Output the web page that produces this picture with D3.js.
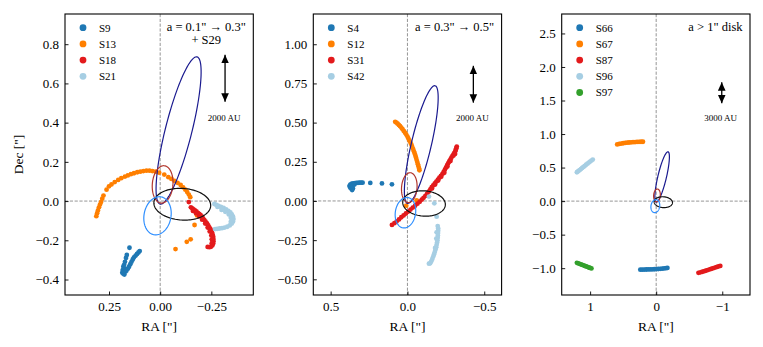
<!DOCTYPE html>
<html><head><meta charset="utf-8">
<script src="https://cdn.jsdelivr.net/npm/d3@7"></script>
<style>
body{margin:0;background:#fff}
svg{display:block}
text{font-family:"Liberation Serif","DejaVu Serif",serif;fill:#000}
</style>
</head><body>
<svg id="c" width="763" height="347"></svg>
<script>
// ---------------- DATA ----------------
// Panel 1: a = 0.1" -> 0.3" + S29
const S9 = [[0.18,-0.37],[0.175,-0.375],[0.185,-0.365],[0.178,-0.36],[0.183,-0.352],[0.175,-0.345],[0.18,-0.335],[0.176,-0.325],
  [0.17,-0.36],[0.165,-0.355],[0.158,-0.345],[0.152,-0.335],[0.146,-0.322],[0.14,-0.31],[0.134,-0.298],[0.128,-0.287],[0.12,-0.278],
  [0.113,-0.27],[0.106,-0.262],[0.1,-0.255],[0.172,-0.31],[0.167,-0.29],[0.163,-0.275],[0.15,-0.238]];
const S13 = [[0.312,-0.077],[0.308,-0.062],[0.304,-0.048],[0.299,-0.032],[0.294,-0.018],[0.289,-0.005],[0.283,0.012],[0.277,0.028],
  [0.262,0.058],[0.25,0.075],[0.238,0.085],[0.222,0.097],[0.205,0.108],[0.19,0.117],[0.172,0.125],[0.158,0.131],[0.143,0.137],
  [0.128,0.142],[0.112,0.147],[0.097,0.15],[0.082,0.153],[0.067,0.155],[0.052,0.155],[0.038,0.153],[0.022,0.15],[0.005,0.145],
  [-0.02,0.135],[-0.04,0.122],[-0.055,0.113],[-0.07,0.103],[-0.085,0.093],[-0.1,0.082],[-0.112,0.07],[-0.123,0.058],[-0.132,0.046],
  [-0.14,0.033],[-0.147,0.02],[-0.18,-0.073],[-0.168,-0.122],[-0.149,-0.195],[-0.13,-0.208],[-0.075,-0.245]];
const S18 = [[-0.14,-0.005],[-0.15,-0.032],[-0.157,-0.037],[-0.163,-0.042],[-0.17,-0.048],[-0.177,-0.053],[-0.184,-0.06],[-0.19,-0.065],
  [-0.197,-0.071],[-0.204,-0.08],[-0.21,-0.088],[-0.216,-0.097],[-0.222,-0.105],[-0.229,-0.114],[-0.235,-0.124],[-0.24,-0.134],
  [-0.245,-0.142],[-0.249,-0.15],[-0.253,-0.16],[-0.256,-0.17],[-0.259,-0.182],[-0.26,-0.194],[-0.26,-0.205],[-0.259,-0.216],
  [-0.255,-0.226],[-0.248,-0.233],[-0.24,-0.235],[-0.232,-0.234],[-0.16,-0.05],[-0.175,-0.062],[-0.19,-0.078],[-0.205,-0.095],
  [-0.22,-0.115],[-0.232,-0.135],[-0.242,-0.155],[-0.25,-0.175],[-0.252,-0.195],[-0.252,-0.215]];
const S21 = [[-0.265,-0.015],[-0.275,-0.02],[-0.285,-0.025],[-0.297,-0.03],[-0.31,-0.035],[-0.322,-0.042],[-0.333,-0.05],[-0.343,-0.058],
  [-0.35,-0.068],[-0.356,-0.08],[-0.358,-0.092],[-0.356,-0.104],[-0.35,-0.115],[-0.34,-0.124],[-0.328,-0.131],[-0.315,-0.135],
  [-0.302,-0.138],[-0.29,-0.14],[-0.278,-0.142],[-0.268,-0.143],[-0.28,-0.03],[-0.3,-0.045],[-0.318,-0.055],[-0.335,-0.068],
  [-0.345,-0.085],[-0.345,-0.105]];
// Panel 2: a = 0.3" -> 0.5"
const S4 = [[0.36,0.07],[0.365,0.078],[0.372,0.085],[0.376,0.093],[0.375,0.1],[0.37,0.106],[0.362,0.11],[0.352,0.112],[0.342,0.114],
  [0.332,0.115],[0.322,0.116],[0.312,0.117],[0.302,0.117],[0.292,0.117],[0.355,0.08],[0.36,0.095],[0.345,0.105],[0.242,0.115],
  [0.166,0.112],[0.101,0.106]];
const S12 = [[0.08,0.505],[0.072,0.5],[0.064,0.493],[0.056,0.485],[0.048,0.477],[0.04,0.468],[0.032,0.458],[0.024,0.447],[0.016,0.436],
  [0.008,0.424],[0.0,0.411],[-0.006,0.398],[-0.013,0.385],[-0.02,0.372],[-0.026,0.359],[-0.031,0.345],[-0.037,0.331],[-0.042,0.317],
  [-0.047,0.303],[-0.052,0.289],[-0.056,0.275],[-0.06,0.261],[-0.064,0.248],[-0.068,0.234],[-0.072,0.22],[-0.076,0.206],[-0.078,0.196],
  [0.008,-0.03],[-0.06,0.003]];
const S31 = [[0.101,-0.153],[0.085,-0.142],[0.07,-0.13],[0.055,-0.118],[0.04,-0.104],[0.025,-0.092],[0.01,-0.08],[-0.005,-0.068],
  [-0.02,-0.055],[-0.035,-0.042],[-0.05,-0.03],[-0.065,-0.017],[-0.08,-0.005],[-0.093,0.008],[-0.105,0.02],[-0.117,0.033],[-0.128,0.046],
  [-0.139,0.06],[-0.149,0.074],[-0.158,0.088],[-0.168,0.1],[-0.178,0.112],[-0.188,0.124],[-0.198,0.136],[-0.208,0.148],[-0.218,0.16],
  [-0.228,0.173],[-0.236,0.186],[-0.244,0.2],[-0.251,0.213],[-0.258,0.227],[-0.265,0.24],[-0.272,0.252],[-0.279,0.264],[-0.286,0.276],
  [-0.293,0.287],[-0.3,0.297],[-0.306,0.307],[-0.311,0.317],[-0.315,0.327],[-0.318,0.337],[-0.321,0.347],[-0.16,0.08],[-0.18,0.105],
  [-0.2,0.13],[-0.22,0.155],[-0.24,0.18],[-0.26,0.22],[-0.28,0.255],[-0.3,0.29],[-0.31,0.3]];
const S42 = [[-0.14,0.028],[-0.175,-0.015],[-0.19,-0.1],[-0.197,-0.16],[-0.2,-0.175],[-0.2,-0.19],[-0.199,-0.205],[-0.198,-0.22],
  [-0.197,-0.235],[-0.195,-0.25],[-0.193,-0.265],[-0.19,-0.28],[-0.187,-0.295],[-0.183,-0.31],[-0.178,-0.325],[-0.173,-0.34],
  [-0.168,-0.355],[-0.162,-0.37],[-0.155,-0.385],[-0.148,-0.398],[-0.14,-0.4],[-0.19,-0.2],[-0.188,-0.24],[-0.18,-0.3]];
// Panel 3: a > 1" disk
const S66 = [[0.24,-1.022],[0.21,-1.022],[0.18,-1.021],[0.15,-1.02],[0.12,-1.019],[0.09,-1.018],[0.06,-1.017],[0.03,-1.016],[0.0,-1.014],
  [-0.03,-1.012],[-0.06,-1.01],[-0.09,-1.007],[-0.12,-1.004],[-0.15,-1.0],[-0.17,-0.997]];
const S67 = [[0.59,0.845],[0.56,0.852],[0.53,0.858],[0.5,0.863],[0.47,0.867],[0.44,0.871],[0.41,0.874],[0.38,0.877],[0.35,0.879],
  [0.32,0.881],[0.29,0.883],[0.26,0.884],[0.23,0.885],[0.2,0.885]];
const S87 = [[-0.64,-1.07],[-0.67,-1.062],[-0.7,-1.053],[-0.73,-1.044],[-0.76,-1.035],[-0.79,-1.025],[-0.82,-1.015],[-0.85,-1.005],
  [-0.88,-0.995],[-0.91,-0.985],[-0.94,-0.975],[-0.97,-0.966]];
const S96 = [[1.2,0.43],[1.18,0.445],[1.16,0.462],[1.14,0.478],[1.12,0.494],[1.1,0.51],[1.08,0.526],[1.06,0.542],[1.04,0.558],
  [1.02,0.574],[1.0,0.59],[0.98,0.605],[0.96,0.62]];
const S97 = [[1.2,-0.92],[1.18,-0.928],[1.16,-0.935],[1.14,-0.943],[1.12,-0.951],[1.1,-0.958],[1.08,-0.966],[1.06,-0.974],[1.04,-0.982],
  [1.02,-0.99],[1.0,-0.997],[0.98,-1.004]];

const names1 = ["S9","S13","S18","S21"];
const names2 = ["S4","S12","S31","S42"];
const names3 = ["S66","S67","S87","S96","S97"];

// Reference orbits (sky plane): centre [RA, Dec], semi-axes [a, b], major-axis angle (deg)
const orbitCenters = [[-0.09,0.36],[-0.012,0.085],[-0.108,-0.016],[0.013,-0.075]];
const orbitAxes = [[0.386,0.065],[0.0955,0.0504],[0.139,0.0806],[0.098,0.0659]];
const orbitAngles = [103.5,94.5,4,99.6];

const xDomains = [[0.465,-0.455],[0.613,-0.613],[1.43,-1.42]];
const yDomains = [[-0.479,0.954],[-0.6,1.193],[-1.40,2.79]];
const xTicks1 = [0.25,0,-0.25], yTicks1 = [-0.4,-0.2,0,0.2,0.4,0.6,0.8];
const xTicks2 = [0.5,0,-0.5], yTicks2 = [-0.5,-0.25,0,0.25,0.5,0.75,1.0];
const xTicks3 = [1,0,-1], yTicks3 = [-1,-0.5,0,0.5,1,1.5,2,2.5];
const titles1 = ['a = 0.1" \u2192 0.3"', '+ S29'];
const titles2 = ['a = 0.3" \u2192 0.5"'];
const titles3 = ['a > 1" disk'];
const scaleLabels = ["2000 AU","2000 AU","3000 AU"];
const scaleLengths = [0.24,0.235,0.315];   // arcsec
const scaleCenters = [0.626,0.745,1.615];  // Dec of bar centre

// ---------------- STYLE ----------------
const starColors = ["#1f78b4","#ff7f00","#e31a1c","#a6cee3","#33a02c"];
const orbitColors = ["#1a1a8f","#b2362c","#111111","#2f8fff"];

// ---------------- DRAW ----------------
const svg = d3.select("#c");
const TOP = 14, BOTTOM = 295, W = 188.3;
const lefts = [65, 313.3, 561.7];

const defs = svg.append("defs");
defs.append("marker").attr("id","ah").attr("viewBox","0 0 10 10")
  .attr("refX",10).attr("refY",5).attr("markerUnits","userSpaceOnUse")
  .attr("markerWidth",8.5).attr("markerHeight",8.5).attr("orient","auto-start-reverse")
  .append("path").attr("d","M0,0.5 L10,5 L0,9.5 z").attr("fill","#000");

function drawPanel(i, names, series, colors, xTicks, yTicks, xFmt, yFmt, titles) {
  const L = lefts[i], R = L + W;
  const x = d3.scaleLinear().domain(xDomains[i]).range([L, R]);
  const y = d3.scaleLinear().domain(yDomains[i]).range([BOTTOM, TOP]);
  defs.append("clipPath").attr("id","clip"+i).append("rect")
    .attr("x",L).attr("y",TOP).attr("width",W).attr("height",BOTTOM-TOP);
  const inner = svg.append("g").attr("clip-path",`url(#clip${i})`);
  inner.append("line").attr("x1",x(0)).attr("x2",x(0)).attr("y1",TOP).attr("y2",BOTTOM)
    .attr("stroke","#8a8a8a").attr("stroke-width",0.9).attr("stroke-dasharray","3.2,1.6");
  inner.append("line").attr("x1",L).attr("x2",R).attr("y1",y(0)).attr("y2",y(0))
    .attr("stroke","#8a8a8a").attr("stroke-width",0.9).attr("stroke-dasharray","3.2,1.6");

  series.forEach((pts, k) => {
    inner.append("g").selectAll("circle").data(pts).join("circle")
      .attr("cx", d => x(d[0])).attr("cy", d => y(d[1])).attr("r", 2.4)
      .attr("fill", colors[k]);
  });

  // orbit ellipses
  const thetas = d3.range(0, 361, 3).map(t => t * Math.PI / 180);
  const line = d3.line().x(d => x(d[0])).y(d => y(d[1]));
  orbitCenters.forEach((c, k) => {
    const [a, b] = orbitAxes[k];
    const al = orbitAngles[k] * Math.PI / 180;
    const pts = thetas.map(t => [
      c[0] + a * Math.cos(t) * Math.cos(al) - b * Math.sin(t) * Math.sin(al),
      c[1] + a * Math.cos(t) * Math.sin(al) + b * Math.sin(t) * Math.cos(al)
    ]);
    inner.append("path").attr("d", line(pts)).attr("fill","none")
      .attr("stroke", orbitColors[k]).attr("stroke-width", 1.2);
  });

  // axes
  const ya = svg.append("g").attr("transform",`translate(${L},0)`)
    .call(d3.axisLeft(y).tickValues(yTicks).tickFormat(d3.format(yFmt)).tickSizeInner(-3.5).tickSizeOuter(0).tickPadding(6));
  const xa = svg.append("g").attr("transform",`translate(0,${BOTTOM})`)
    .call(d3.axisBottom(x).tickValues(xTicks).tickFormat(d3.format(xFmt)).tickSizeInner(-3.5).tickSizeOuter(0).tickPadding(6.8));
  [ya, xa].forEach(a => {
    a.select(".domain").remove();
    a.selectAll("line").attr("stroke","#000").attr("stroke-width",0.9);
    a.selectAll("text").attr("font-family",'"Liberation Serif",serif').attr("font-size",13).attr("fill","#000");
  });

  // frame
  svg.append("rect").attr("x",L).attr("y",TOP).attr("width",W).attr("height",BOTTOM-TOP)
    .attr("fill","none").attr("stroke","#000").attr("stroke-width",1.1);

  // legend
  names.forEach((n, k) => {
    const yy = TOP + 13.7 + k * 16.2;
    svg.append("circle").attr("cx", L + 18).attr("cy", yy).attr("r", 3.4).attr("fill", colors[k]);
    svg.append("text").attr("x", L + 34).attr("y", yy + 3.9).attr("font-size", 11).text(n);
  });

  // title
  const t1 = svg.append("text").attr("x", R - 7.5).attr("y", 30.5).attr("text-anchor","end")
    .attr("font-size", 12.5).text(titles[0]);
  if (titles.length > 1) {
    const w = t1.node().getComputedTextLength();
    svg.append("text").attr("x", R - 7.5 - w / 2).attr("y", 43.7).attr("text-anchor","middle")
      .attr("font-size", 12.5).text(titles[1]);
  }

  // scale bar
  const ax = L + 0.85 * W;
  svg.append("line").attr("x1", ax).attr("x2", ax)
    .attr("y1", y(scaleCenters[i] + scaleLengths[i] / 2)).attr("y2", y(scaleCenters[i] - scaleLengths[i] / 2))
    .attr("stroke","#000").attr("stroke-width",1.3)
    .attr("marker-start","url(#ah)").attr("marker-end","url(#ah)");
  svg.append("text").attr("x", ax - 1).attr("y", 120.5).attr("text-anchor","middle")
    .attr("font-size", 9).text(scaleLabels[i]);

  // x label
  svg.append("text").attr("x", (L + R) / 2).attr("y", 331).attr("text-anchor","middle")
    .attr("font-size", 13.5).text('RA ["]');
}

drawPanel(0, names1, [S9, S13, S18, S21], starColors.slice(0,4), xTicks1, yTicks1, ".2f", ".1f", titles1);
drawPanel(1, names2, [S4, S12, S31, S42], starColors.slice(0,4), xTicks2, yTicks2, ".1f", ".2f", titles2);
drawPanel(2, names3, [S66, S67, S87, S96, S97], starColors, xTicks3, yTicks3, "d", ".1f", titles3);

svg.append("text").attr("transform","translate(23,154.5) rotate(-90)").attr("text-anchor","middle")
  .attr("font-size", 13.5).text('Dec ["]');
</script>
</body></html>
